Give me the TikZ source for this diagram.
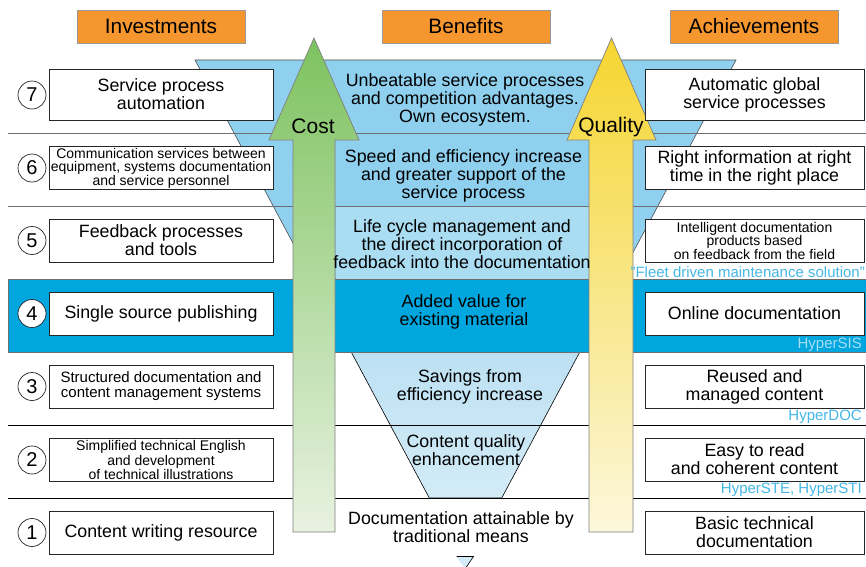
\documentclass[tikz,border=0pt]{standalone}
\usepackage{fontspec}
\setmainfont{Liberation Sans}
\definecolor{orangeH}{HTML}{F5962F}
\definecolor{funnelA}{HTML}{8FD0EF}
\definecolor{funnelB}{HTML}{AADCF2}
\definecolor{funnelC}{HTML}{BDE1F3}
\definecolor{funnelD}{HTML}{D3EBF7}
\definecolor{bandblue}{HTML}{00A6DE}
\definecolor{tagblue}{HTML}{45B7E7}
\definecolor{taglight}{HTML}{A8DEF6}
\definecolor{costtop}{HTML}{7DC25F}
\definecolor{costbot}{HTML}{E8F2E1}
\definecolor{qualtop}{HTML}{F5D530}
\definecolor{qualbot}{HTML}{FCF7DC}
\definecolor{sepgray}{HTML}{6E6E6E}
\begin{document}
\begin{tikzpicture}[x=1pt,y=-1pt,
  lbox/.style={draw=black!85,fill=white,line width=0.7pt,minimum width=224pt,minimum height=43pt,inner sep=0pt,align=center},
  rbox/.style={lbox,minimum width=219pt},
  hdr/.style={draw=black!40,fill=orangeH,line width=0.6pt,minimum width=168pt,minimum height=33pt,inner sep=0pt,font=\fontsize{20.8}{21}\selectfont},
  num/.style={circle,draw=black!85,fill=white,line width=0.7pt,minimum size=28pt,inner sep=0pt,font=\fontsize{20}{20}\selectfont},
  big/.style={font=\fontsize{17.8}{18}\selectfont,align=center,inner sep=0pt},
  small/.style={font=\fontsize{14}{13.6}\selectfont,align=center,inner sep=0pt},
  mid/.style={font=\fontsize{15}{15}\selectfont,align=center,inner sep=0pt},
  tag/.style={font=\fontsize{15}{15}\selectfont,text=tagblue,anchor=east,inner sep=0pt},
  sepline/.style={draw=sepgray,line width=0.8pt},
  blackline/.style={draw=black,line width=0.8pt},
  arrowlabel/.style={font=\fontsize{21}{21}\selectfont,inner sep=0pt}]
\useasboundingbox (0,0) rectangle (866,566);
\fill[white] (0,0) rectangle (866,566);

% upper funnel
\path[fill=funnelA,draw=black!70,line width=0.6pt] (195,60) -- (736,60) -- (618.8,279) -- (312.2,279) -- cycle;
\fill[funnelB] (336,206) rectangle (589,279);
% lower funnel
\path[top color=funnelC,bottom color=funnelD,draw=black,line width=0.6pt] (351.2,352) -- (579.8,352) -- (501.7,498) -- (429.3,498) -- cycle;
\path[fill=funnelD,draw=black,line width=0.6pt] (456.5,556.5) -- (473.5,556.5) -- (465,569);

% separators
\draw[sepline] (8,133) -- (866,133);
\draw[sepline] (8,206) -- (866,206);
\draw[blackline] (8,425) -- (866,425);
\draw[blackline] (8,498) -- (866,498);
% band 4
\path[fill=bandblue,draw=sepgray,line width=0.7pt] (8,279) rectangle (867,352);

% arrows
\path[top color=costtop,bottom color=costbot,draw=black!50,line width=0.7pt]
  (293,532) -- (293,140) -- (269,140) -- (314,38) -- (359,140) -- (335,140) -- (335,532) -- cycle;
\path[top color=qualtop,bottom color=qualbot,draw=black!50,line width=0.7pt]
  (589,532) -- (589,140) -- (567,140) -- (611.5,38) -- (656,140) -- (633,140) -- (633,532) -- cycle;
\node[arrowlabel] (cost) at (313,126) {Cost};
\node[arrowlabel] (quality) at (611,127) {Quality};

% headers
\node[hdr] (hinv) at (161,26.5) {Investments};
\node[hdr] (hben) at (466,26.5) {Benefits};
\node[hdr] (hach) at (754,26.5) {Achievements};

% numbers
\node[num] (n7) at (32,95) {7};
\node[num] (n6) at (32,168) {6};
\node[num] (n5) at (32,240.5) {5};
\node[num] (n4) at (32,313.5) {4};
\node[num] (n3) at (32,386.5) {3};
\node[num] (n2) at (32,460) {2};
\node[num] (n1) at (32,532.5) {1};

% left boxes
\node[lbox,big,minimum height=51pt] (l7) at (161,94.5) {Service process\\automation};
\node[lbox,small] (l6) at (161,168) {Communication services between\\equipment, systems documentation\\and service personnel};
\node[lbox,big] (l5) at (161,240.5) {Feedback processes\\and tools};
\node[lbox,big] (l4) at (161,313.5) {Single source publishing};
\node[lbox,mid] (l3) at (161,386.5) {Structured documentation and\\content management systems};
\node[lbox,font=\fontsize{14}{13}\selectfont] (l2) at (161,460) {Simplified technical English\\and development\\of technical illustrations};
\node[lbox,big] (l1) at (161,532.5) {Content writing resource};

% center texts
\node[big] (c7) at (465,100) {Unbeatable service processes\\and competition advantages.\\Own ecosystem.};
\node[big] (c6) at (463.5,176) {Speed and efficiency increase\\and greater support of the\\service process};
\node[big] (c5) at (462,244) {Life cycle management and\\the direct incorporation of\\feedback into the documentation};
\node[big] (c4) at (464,312) {Added value for\\existing material};
\node[big] (c3) at (470,387) {Savings from\\efficiency increase};
\node[big] (c2) at (466,450.5) {Content quality\\enhancement};
\node[big] (c1) at (461,527) {Documentation attainable by\\traditional means};

% right boxes
\node[rbox,big,minimum height=51pt] (r7) at (754.5,94.5) {Automatic global\\service processes};
\node[rbox,big] (r6) at (754.5,167.5) {Right information at right\\time in the right place};
\node[rbox,font=\fontsize{14}{13.5}\selectfont] (r5) at (754.5,240.5) {Intelligent documentation\\products based\\on feedback from the field};
\node[rbox,big] (r4) at (754.5,313.5) {Online documentation};
\node[rbox,big] (r3) at (754.5,386.5) {Reused and\\managed content};
\node[rbox,big] (r2) at (754.5,459.5) {Easy to read\\and coherent content};
\node[rbox,big] (r1) at (754.5,532.5) {Basic technical\\documentation};

% tags
\node[tag] (t5) at (865,272) {"Fleet driven maintenance solution"};
\node[tag,text=taglight] (t4) at (862,345) {HyperSIS};
\node[tag] (t3) at (862,417) {HyperDOC};
\node[tag] (t2) at (862,489.5) {HyperSTE, HyperSTI};
\end{tikzpicture}
\end{document}
